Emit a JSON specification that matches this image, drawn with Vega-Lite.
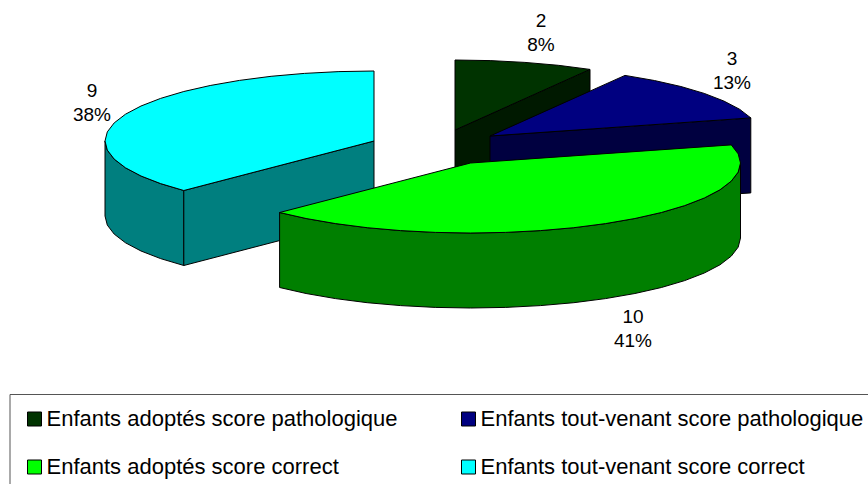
{
"$schema":"https://vega.github.io/schema/vega-lite/v6.json",
"width":868,"height":484,"padding":0,"autosize":{"type":"none"},
"background":"white",
"view":{"stroke":null},
"config":{"font":"Liberation Sans"},
"layer":[
{"data":{"values":[
{"face":"c1","i":0,"x":183.8,"y":190.5,"s":"Enfants tout-venant score correct (côté)"},{"face":"c1","i":1,"x":160.6,"y":183.6,"s":"Enfants tout-venant score correct (côté)"},{"face":"c1","i":2,"x":141,"y":176,"s":"Enfants tout-venant score correct (côté)"},{"face":"c1","i":3,"x":125.5,"y":167.8,"s":"Enfants tout-venant score correct (côté)"},{"face":"c1","i":4,"x":114.2,"y":159.1,"s":"Enfants tout-venant score correct (côté)"},{"face":"c1","i":5,"x":107.3,"y":150.1,"s":"Enfants tout-venant score correct (côté)"},{"face":"c1","i":6,"x":105,"y":141,"s":"Enfants tout-venant score correct (côté)"},{"face":"c1","i":7,"x":105,"y":216,"s":"Enfants tout-venant score correct (côté)"},{"face":"c1","i":8,"x":107.3,"y":225.1,"s":"Enfants tout-venant score correct (côté)"},{"face":"c1","i":9,"x":114.2,"y":234.1,"s":"Enfants tout-venant score correct (côté)"},{"face":"c1","i":10,"x":125.5,"y":242.8,"s":"Enfants tout-venant score correct (côté)"},{"face":"c1","i":11,"x":141,"y":251,"s":"Enfants tout-venant score correct (côté)"},{"face":"c1","i":12,"x":160.6,"y":258.6,"s":"Enfants tout-venant score correct (côté)"},{"face":"c1","i":13,"x":183.8,"y":265.5,"s":"Enfants tout-venant score correct (côté)"},{"face":"c1","i":14,"x":183.8,"y":190.5,"s":"Enfants tout-venant score correct (côté)"},
{"face":"c2","i":0,"x":183.8,"y":190.5,"s":"Enfants tout-venant score correct (côté)"},{"face":"c2","i":1,"x":374,"y":141,"s":"Enfants tout-venant score correct (côté)"},{"face":"c2","i":2,"x":374,"y":216,"s":"Enfants tout-venant score correct (côté)"},{"face":"c2","i":3,"x":183.8,"y":265.5,"s":"Enfants tout-venant score correct (côté)"},{"face":"c2","i":4,"x":183.8,"y":190.5,"s":"Enfants tout-venant score correct (côté)"},
{"face":"c3","i":0,"x":183.8,"y":190.5,"s":"Enfants tout-venant score correct"},{"face":"c3","i":1,"x":160.6,"y":183.6,"s":"Enfants tout-venant score correct"},{"face":"c3","i":2,"x":141,"y":176,"s":"Enfants tout-venant score correct"},{"face":"c3","i":3,"x":125.5,"y":167.8,"s":"Enfants tout-venant score correct"},{"face":"c3","i":4,"x":114.2,"y":159.1,"s":"Enfants tout-venant score correct"},{"face":"c3","i":5,"x":107.3,"y":150.1,"s":"Enfants tout-venant score correct"},{"face":"c3","i":6,"x":105,"y":141,"s":"Enfants tout-venant score correct"},{"face":"c3","i":7,"x":107.3,"y":131.9,"s":"Enfants tout-venant score correct"},{"face":"c3","i":8,"x":114.2,"y":122.9,"s":"Enfants tout-venant score correct"},{"face":"c3","i":9,"x":125.5,"y":114.2,"s":"Enfants tout-venant score correct"},{"face":"c3","i":10,"x":141,"y":106,"s":"Enfants tout-venant score correct"},{"face":"c3","i":11,"x":160.6,"y":98.4,"s":"Enfants tout-venant score correct"},{"face":"c3","i":12,"x":183.8,"y":91.5,"s":"Enfants tout-venant score correct"},{"face":"c3","i":13,"x":210.2,"y":85.5,"s":"Enfants tout-venant score correct"},{"face":"c3","i":14,"x":239.5,"y":80.4,"s":"Enfants tout-venant score correct"},{"face":"c3","i":15,"x":271.1,"y":76.3,"s":"Enfants tout-venant score correct"},{"face":"c3","i":16,"x":304.4,"y":73.4,"s":"Enfants tout-venant score correct"},{"face":"c3","i":17,"x":338.9,"y":71.6,"s":"Enfants tout-venant score correct"},{"face":"c3","i":18,"x":374,"y":71,"s":"Enfants tout-venant score correct"},{"face":"c3","i":19,"x":374,"y":141,"s":"Enfants tout-venant score correct"},{"face":"c3","i":20,"x":183.8,"y":190.5,"s":"Enfants tout-venant score correct"},
{"face":"d1","i":0,"x":455,"y":130,"s":"Enfants adoptés score pathologique (côté)"},{"face":"d1","i":1,"x":590,"y":69.4,"s":"Enfants adoptés score pathologique (côté)"},{"face":"d1","i":2,"x":590,"y":144.4,"s":"Enfants adoptés score pathologique (côté)"},{"face":"d1","i":3,"x":455,"y":205,"s":"Enfants adoptés score pathologique (côté)"},{"face":"d1","i":4,"x":455,"y":130,"s":"Enfants adoptés score pathologique (côté)"},
{"face":"d2","i":0,"x":455,"y":60,"s":"Enfants adoptés score pathologique"},{"face":"d2","i":1,"x":490.2,"y":60.6,"s":"Enfants adoptés score pathologique"},{"face":"d2","i":2,"x":524.9,"y":62.4,"s":"Enfants adoptés score pathologique"},{"face":"d2","i":3,"x":558.3,"y":65.3,"s":"Enfants adoptés score pathologique"},{"face":"d2","i":4,"x":590,"y":69.4,"s":"Enfants adoptés score pathologique"},{"face":"d2","i":5,"x":455,"y":130,"s":"Enfants adoptés score pathologique"},{"face":"d2","i":6,"x":455,"y":60,"s":"Enfants adoptés score pathologique"},
{"face":"n1","i":0,"x":490,"y":136,"s":"Enfants tout-venant score pathologique (côté)"},{"face":"n1","i":1,"x":750.8,"y":117.9,"s":"Enfants tout-venant score pathologique (côté)"},{"face":"n1","i":2,"x":750.8,"y":192.9,"s":"Enfants tout-venant score pathologique (côté)"},{"face":"n1","i":3,"x":490,"y":211,"s":"Enfants tout-venant score pathologique (côté)"},{"face":"n1","i":4,"x":490,"y":136,"s":"Enfants tout-venant score pathologique (côté)"},
{"face":"n2","i":0,"x":625,"y":75.4,"s":"Enfants tout-venant score pathologique"},{"face":"n2","i":1,"x":654.4,"y":80.5,"s":"Enfants tout-venant score pathologique"},{"face":"n2","i":2,"x":680.9,"y":86.5,"s":"Enfants tout-venant score pathologique"},{"face":"n2","i":3,"x":704.2,"y":93.4,"s":"Enfants tout-venant score pathologique"},{"face":"n2","i":4,"x":723.8,"y":101,"s":"Enfants tout-venant score pathologique"},{"face":"n2","i":5,"x":739.5,"y":109.2,"s":"Enfants tout-venant score pathologique"},{"face":"n2","i":6,"x":750.8,"y":117.9,"s":"Enfants tout-venant score pathologique"},{"face":"n2","i":7,"x":490,"y":136,"s":"Enfants tout-venant score pathologique"},{"face":"n2","i":8,"x":625,"y":75.4,"s":"Enfants tout-venant score pathologique"},
{"face":"g1","i":0,"x":740.5,"y":163,"s":"Enfants adoptés score correct (côté)"},{"face":"g1","i":1,"x":738.2,"y":172.1,"s":"Enfants adoptés score correct (côté)"},{"face":"g1","i":2,"x":731.3,"y":181.1,"s":"Enfants adoptés score correct (côté)"},{"face":"g1","i":3,"x":720,"y":189.8,"s":"Enfants adoptés score correct (côté)"},{"face":"g1","i":4,"x":704.3,"y":198,"s":"Enfants adoptés score correct (côté)"},{"face":"g1","i":5,"x":684.7,"y":205.6,"s":"Enfants adoptés score correct (côté)"},{"face":"g1","i":6,"x":661.4,"y":212.5,"s":"Enfants adoptés score correct (côté)"},{"face":"g1","i":7,"x":634.9,"y":218.5,"s":"Enfants adoptés score correct (côté)"},{"face":"g1","i":8,"x":605.5,"y":223.6,"s":"Enfants adoptés score correct (côté)"},{"face":"g1","i":9,"x":573.8,"y":227.7,"s":"Enfants adoptés score correct (côté)"},{"face":"g1","i":10,"x":540.4,"y":230.6,"s":"Enfants adoptés score correct (côté)"},{"face":"g1","i":11,"x":505.7,"y":232.4,"s":"Enfants adoptés score correct (côté)"},{"face":"g1","i":12,"x":470.5,"y":233,"s":"Enfants adoptés score correct (côté)"},{"face":"g1","i":13,"x":435.3,"y":232.4,"s":"Enfants adoptés score correct (côté)"},{"face":"g1","i":14,"x":400.6,"y":230.6,"s":"Enfants adoptés score correct (côté)"},{"face":"g1","i":15,"x":367.2,"y":227.7,"s":"Enfants adoptés score correct (côté)"},{"face":"g1","i":16,"x":335.5,"y":223.6,"s":"Enfants adoptés score correct (côté)"},{"face":"g1","i":17,"x":306.1,"y":218.5,"s":"Enfants adoptés score correct (côté)"},{"face":"g1","i":18,"x":279.6,"y":212.5,"s":"Enfants adoptés score correct (côté)"},{"face":"g1","i":19,"x":279.6,"y":287.5,"s":"Enfants adoptés score correct (côté)"},{"face":"g1","i":20,"x":306.1,"y":293.5,"s":"Enfants adoptés score correct (côté)"},{"face":"g1","i":21,"x":335.5,"y":298.6,"s":"Enfants adoptés score correct (côté)"},{"face":"g1","i":22,"x":367.2,"y":302.7,"s":"Enfants adoptés score correct (côté)"},{"face":"g1","i":23,"x":400.6,"y":305.6,"s":"Enfants adoptés score correct (côté)"},{"face":"g1","i":24,"x":435.3,"y":307.4,"s":"Enfants adoptés score correct (côté)"},{"face":"g1","i":25,"x":470.5,"y":308,"s":"Enfants adoptés score correct (côté)"},{"face":"g1","i":26,"x":505.7,"y":307.4,"s":"Enfants adoptés score correct (côté)"},{"face":"g1","i":27,"x":540.4,"y":305.6,"s":"Enfants adoptés score correct (côté)"},{"face":"g1","i":28,"x":573.8,"y":302.7,"s":"Enfants adoptés score correct (côté)"},{"face":"g1","i":29,"x":605.5,"y":298.6,"s":"Enfants adoptés score correct (côté)"},{"face":"g1","i":30,"x":634.9,"y":293.5,"s":"Enfants adoptés score correct (côté)"},{"face":"g1","i":31,"x":661.4,"y":287.5,"s":"Enfants adoptés score correct (côté)"},{"face":"g1","i":32,"x":684.7,"y":280.6,"s":"Enfants adoptés score correct (côté)"},{"face":"g1","i":33,"x":704.3,"y":273,"s":"Enfants adoptés score correct (côté)"},{"face":"g1","i":34,"x":720,"y":264.8,"s":"Enfants adoptés score correct (côté)"},{"face":"g1","i":35,"x":731.3,"y":256.1,"s":"Enfants adoptés score correct (côté)"},{"face":"g1","i":36,"x":738.2,"y":247.1,"s":"Enfants adoptés score correct (côté)"},{"face":"g1","i":37,"x":740.5,"y":238,"s":"Enfants adoptés score correct (côté)"},{"face":"g1","i":38,"x":740.5,"y":163,"s":"Enfants adoptés score correct (côté)"},
{"face":"g2","i":0,"x":731.3,"y":144.9,"s":"Enfants adoptés score correct"},{"face":"g2","i":1,"x":738.2,"y":153.9,"s":"Enfants adoptés score correct"},{"face":"g2","i":2,"x":740.5,"y":163,"s":"Enfants adoptés score correct"},{"face":"g2","i":3,"x":738.2,"y":172.1,"s":"Enfants adoptés score correct"},{"face":"g2","i":4,"x":731.3,"y":181.1,"s":"Enfants adoptés score correct"},{"face":"g2","i":5,"x":720,"y":189.8,"s":"Enfants adoptés score correct"},{"face":"g2","i":6,"x":704.3,"y":198,"s":"Enfants adoptés score correct"},{"face":"g2","i":7,"x":684.7,"y":205.6,"s":"Enfants adoptés score correct"},{"face":"g2","i":8,"x":661.4,"y":212.5,"s":"Enfants adoptés score correct"},{"face":"g2","i":9,"x":634.9,"y":218.5,"s":"Enfants adoptés score correct"},{"face":"g2","i":10,"x":605.5,"y":223.6,"s":"Enfants adoptés score correct"},{"face":"g2","i":11,"x":573.8,"y":227.7,"s":"Enfants adoptés score correct"},{"face":"g2","i":12,"x":540.4,"y":230.6,"s":"Enfants adoptés score correct"},{"face":"g2","i":13,"x":505.7,"y":232.4,"s":"Enfants adoptés score correct"},{"face":"g2","i":14,"x":470.5,"y":233,"s":"Enfants adoptés score correct"},{"face":"g2","i":15,"x":435.3,"y":232.4,"s":"Enfants adoptés score correct"},{"face":"g2","i":16,"x":400.6,"y":230.6,"s":"Enfants adoptés score correct"},{"face":"g2","i":17,"x":367.2,"y":227.7,"s":"Enfants adoptés score correct"},{"face":"g2","i":18,"x":335.5,"y":223.6,"s":"Enfants adoptés score correct"},{"face":"g2","i":19,"x":306.1,"y":218.5,"s":"Enfants adoptés score correct"},{"face":"g2","i":20,"x":279.6,"y":212.5,"s":"Enfants adoptés score correct"},{"face":"g2","i":21,"x":470.5,"y":163,"s":"Enfants adoptés score correct"},{"face":"g2","i":22,"x":731.3,"y":144.9,"s":"Enfants adoptés score correct"}
]},
"mark":{"type":"line","stroke":"#000000","strokeWidth":1,"strokeJoin":"round","clip":false},
"encoding":{
"x":{"field":"x","type":"quantitative","scale":{"domain":[0,868],"nice":false},"axis":null},
"y":{"field":"y","type":"quantitative","scale":{"domain":[484,0],"nice":false},"axis":null},
"detail":{"field":"face"},
"order":{"field":"i","type":"quantitative"},
"fill":{"field":"s","type":"nominal","sort":null,
"scale":{"domain":["Enfants adoptés score pathologique","Enfants adoptés score correct","Enfants tout-venant score pathologique","Enfants tout-venant score correct","Enfants adoptés score pathologique (côté)","Enfants tout-venant score pathologique (côté)","Enfants adoptés score correct (côté)","Enfants tout-venant score correct (côté)"],
"range":["#003300","#00ff00","#000080","#00ffff","#001900","#000040","#007f00","#007f7f"]},
"legend":{"title":null,"orient":"none","legendX":9.5,"legendY":394,"columns":2,"padding":14,"columnPadding":59,"rowPadding":26,
"values":["Enfants adoptés score pathologique","Enfants adoptés score correct","Enfants tout-venant score pathologique","Enfants tout-venant score correct"],
"symbolType":"square","symbolSize":196,"symbolStrokeColor":"#000000","symbolStrokeWidth":1,"symbolOpacity":1,
"labelFont":"Liberation Sans","labelFontSize":22,"labelColor":"#000000","labelLimit":500,"labelOffset":1,
"strokeColor":"#555555","fillColor":"#ffffff"}}
}},
{"data":{"values":[
{"label":"2\n8%","x":541,"y":21},
{"label":"3\n13%","x":732,"y":59},
{"label":"10\n41%","x":633,"y":317},
{"label":"9\n38%","x":92,"y":91}
]},
"mark":{"type":"text","font":"Liberation Sans","fontSize":19,"lineBreak":"\n","lineHeight":24,"color":"#000000","baseline":"middle","align":"center"},
"encoding":{
"x":{"field":"x","type":"quantitative"},
"y":{"field":"y","type":"quantitative"},
"text":{"field":"label"}
}}
]
}
